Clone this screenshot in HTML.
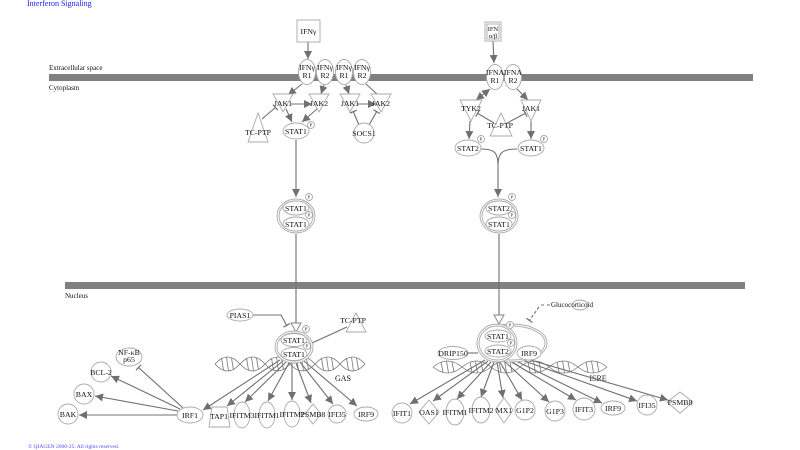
<!DOCTYPE html>
<html><head><meta charset="utf-8"><style>
html,body{margin:0;padding:0;background:#fff;}
svg{display:block;}
text{font-family:"Liberation Serif",serif;fill:#111;}
.n{fill:#fff;stroke:#aaa;stroke-width:0.9;}
.e{stroke:#707070;stroke-width:1.1;fill:none;}
.l{font-size:8px;text-anchor:middle;}
.s{font-size:7.8px;text-anchor:middle;}
.p{font-size:4.5px;text-anchor:middle;}
</style></head><body>
<svg width="800" height="450" viewBox="0 0 800 450">
<defs>
<marker id="a" viewBox="0 0 10 10" refX="10" refY="5" markerWidth="8" markerHeight="8" markerUnits="userSpaceOnUse" orient="auto"><path d="M0,0 L10,5 L0,10 z" fill="#707070"/></marker>
<marker id="as" viewBox="0 0 10 10" refX="0" refY="5" markerWidth="8" markerHeight="8" markerUnits="userSpaceOnUse" orient="auto"><path d="M10,0 L0,5 L10,10 z" fill="#707070"/></marker>
<marker id="b" viewBox="0 0 4 10" refX="3" refY="5" markerWidth="3" markerHeight="8" markerUnits="userSpaceOnUse" orient="auto"><path d="M2,0 L2,10" stroke="#707070" stroke-width="1.6"/></marker>
</defs>

<!-- title & footer -->
<text x="27" y="6" style="font-size:8px;fill:#1a1aff">Interferon Signaling</text>
<text x="28" y="448" style="font-size:5.5px;fill:#4a4aff">© QIAGEN 2000-25. All rights reserved.</text>

<!-- membranes -->
<text x="49" y="70" style="font-size:7px">Extracellular space</text>
<rect x="49" y="74" width="704" height="7" fill="#808080"/>
<text x="49" y="90" style="font-size:7px">Cytoplasm</text>
<rect x="65" y="282" width="680" height="7" fill="#808080"/>
<text x="65" y="298" style="font-size:7px">Nucleus</text>

<!-- helices -->
<g stroke="#777" stroke-width="0.8" fill="none">
<path d="M215,364 q12.5,-14 25,0 t25,0 t25,0 t25,0 t25,0 t25,0"/>
<path d="M215,364 q12.5,14 25,0 t25,0 t25,0 t25,0 t25,0 t25,0"/>
<path d="M221.5,358 l2,12 M226.5,357 l2,14 M231.5,358 l2,12 M246.5,358 l2,12 M251.5,357 l2,14 M256.5,358 l2,12 M271.5,358 l2,12 M276.5,357 l2,14 M281.5,358 l2,12 M296.5,358 l2,12 M301.5,357 l2,14 M306.5,358 l2,12 M321.5,358 l2,12 M326.5,357 l2,14 M331.5,358 l2,12 M346.5,358 l2,12 M351.5,357 l2,14 M356.5,358 l2,12"/>
<path d="M433,367 q14.5,-12 29,0 t29,0 t29,0 t29,0 t29,0 t29,0"/>
<path d="M433,367 q14.5,12 29,0 t29,0 t29,0 t29,0 t29,0 t29,0"/>
<path d="M441,362 l2,10 M446.5,361 l2,12 M452,362 l2,10 M470,362 l2,10 M475.5,361 l2,12 M481,362 l2,10 M499,362 l2,10 M504.5,361 l2,12 M510,362 l2,10 M528,362 l2,10 M533.5,361 l2,12 M539,362 l2,10 M557,362 l2,10 M562.5,361 l2,12 M568,362 l2,10 M586,362 l2,10 M591.5,361 l2,12 M597,362 l2,10"/>
</g>
<text x="343" y="381" class="l">GAS</text>
<text x="598" y="381" class="l">ISRE</text>

<!-- edges top left -->
<g class="e">
<line x1="308" y1="42" x2="308" y2="59" marker-end="url(#a)"/>
<line x1="302" y1="84" x2="288" y2="95" marker-end="url(#a)"/>
<line x1="324" y1="85" x2="321" y2="94" marker-end="url(#a)"/>
<line x1="346" y1="85" x2="349" y2="94" marker-end="url(#a)"/>
<line x1="366" y1="84" x2="378" y2="95"/>
<line x1="291" y1="104" x2="312" y2="104" marker-end="url(#a)"/>
<line x1="357" y1="104" x2="376" y2="104" marker-end="url(#a)"/>
<line x1="286" y1="109" x2="292" y2="122" marker-end="url(#a)"/>
<line x1="317" y1="109" x2="302" y2="122" marker-end="url(#a)"/>
<line x1="262" y1="119" x2="276" y2="107" marker-end="url(#b)"/>
<line x1="359" y1="125" x2="353" y2="111" marker-end="url(#b)"/>
<line x1="369" y1="125" x2="377" y2="111" marker-end="url(#b)"/>
<line x1="296" y1="140" x2="296" y2="197" marker-end="url(#a)"/>
<line x1="296" y1="234" x2="296" y2="323"/>
<!-- top right -->
<line x1="493" y1="41" x2="494" y2="63" marker-end="url(#a)"/>
<line x1="490" y1="89" x2="476" y2="100" marker-end="url(#a)" marker-start="url(#as)"/>
<line x1="517" y1="89" x2="528" y2="100" marker-end="url(#a)"/>
<line x1="494" y1="123" x2="477" y2="113" marker-end="url(#b)"/>
<line x1="507" y1="123" x2="526" y2="113" marker-end="url(#b)"/>
<line x1="470" y1="121" x2="469" y2="139" marker-end="url(#a)"/>
<line x1="531" y1="121" x2="531" y2="139" marker-end="url(#a)"/>
<path d="M481,149 C495,149 498,153 498,166 M517,149 C502,149 498,153 498,166"/>
<line x1="498" y1="166" x2="498" y2="197" marker-end="url(#a)"/>
<line x1="499" y1="234" x2="499" y2="315"/>
<!-- nucleus left -->
<path d="M253,315 L281,315 L287,326" marker-end="url(#b)"/>
<line x1="347" y1="327" x2="312" y2="343"/>
<line x1="280" y1="360" x2="203" y2="410" marker-end="url(#a)"/>
<line x1="283" y1="361" x2="227" y2="406" marker-end="url(#a)"/>
<line x1="286" y1="362" x2="245" y2="402" marker-end="url(#a)"/>
<line x1="289" y1="363" x2="268" y2="401" marker-end="url(#a)"/>
<line x1="292" y1="363" x2="292" y2="400" marker-end="url(#a)"/>
<line x1="296" y1="363" x2="311" y2="403" marker-end="url(#a)"/>
<line x1="300" y1="362" x2="333" y2="404" marker-end="url(#a)"/>
<line x1="304" y1="361" x2="357" y2="406" marker-end="url(#a)"/>
<line x1="177" y1="415" x2="79" y2="415" marker-end="url(#a)"/>
<line x1="178" y1="411" x2="95" y2="396" marker-end="url(#a)"/>
<line x1="180" y1="409" x2="111" y2="376" marker-end="url(#a)"/>
<line x1="183" y1="408" x2="138" y2="367" marker-end="url(#b)"/>
<!-- nucleus right -->
<line x1="468" y1="353" x2="478" y2="353"/>
<path d="M541,305 L544,305 M547,305 L550,305" stroke-width="0.9"/>
<line x1="539" y1="307" x2="529" y2="321" stroke-dasharray="3,2" marker-end="url(#b)"/>
<line x1="485" y1="360" x2="410" y2="404" marker-end="url(#a)"/>
<line x1="488" y1="361" x2="433" y2="401" marker-end="url(#a)"/>
<line x1="491" y1="362" x2="457" y2="399" marker-end="url(#a)"/>
<line x1="494" y1="362" x2="481" y2="397" marker-end="url(#a)"/>
<line x1="497" y1="362" x2="503" y2="398" marker-end="url(#a)"/>
<line x1="500" y1="362" x2="522" y2="400" marker-end="url(#a)"/>
<line x1="504" y1="361" x2="549" y2="402" marker-end="url(#a)"/>
<line x1="508" y1="360" x2="576" y2="400" marker-end="url(#a)"/>
<line x1="512" y1="359" x2="602" y2="403" marker-end="url(#a)"/>
<line x1="516" y1="358" x2="637" y2="401" marker-end="url(#a)"/>
<line x1="520" y1="357" x2="668" y2="400" marker-end="url(#a)"/>
</g>
<!-- hollow arrowheads -->
<polygon points="291,323 301,323 296,332" fill="#fff" stroke="#808080" stroke-width="0.9"/>
<polygon points="494,315 504,315 499,324" fill="#fff" stroke="#808080" stroke-width="0.9"/>

<!-- top-left nodes -->
<rect x="297" y="20" width="23" height="22" class="n"/>
<text x="308.5" y="34" class="s">IFNγ</text>
<ellipse cx="307" cy="72" rx="8.5" ry="12.5" class="n"/>
<ellipse cx="325" cy="72" rx="8.5" ry="12.5" class="n"/>
<ellipse cx="344" cy="72" rx="8.5" ry="12.5" class="n"/>
<ellipse cx="362" cy="72" rx="8.5" ry="12.5" class="n"/>
<text x="307" y="70" class="s">IFNγ</text><text x="307" y="78" class="s">R1</text>
<text x="325" y="70" class="s">IFNγ</text><text x="325" y="78" class="s">R2</text>
<text x="344" y="70" class="s">IFNγ</text><text x="344" y="78" class="s">R1</text>
<text x="362" y="70" class="s">IFNγ</text><text x="362" y="78" class="s">R2</text>
<polygon points="273,94 293,94 283,112" class="n"/><text x="283" y="106" class="s">JAK1</text>
<polygon points="309,94 329,94 319,112" class="n"/><text x="319" y="106" class="s">JAK2</text>
<polygon points="340,94 360,94 350,112" class="n"/><text x="350" y="106" class="s">JAK1</text>
<polygon points="371,94 391,94 381,112" class="n"/><text x="381" y="106" class="s">JAK2</text>
<polygon points="258,113 248,142 268,142" class="n"/><text x="258" y="135" class="s">TC-PTP</text>
<ellipse cx="296" cy="131" rx="13" ry="8" class="n"/><text x="296" y="134" class="s">STAT1</text>
<circle cx="311" cy="125" r="3.5" class="n"/><text x="311" y="126.6" class="p">P</text>
<circle cx="364" cy="133" r="10" class="n"/><text x="364" y="136" class="s">SOCS1</text>

<!-- top-right nodes -->
<rect x="485" y="22" width="16" height="19" class="n"/>
<rect x="487" y="24" width="12" height="15" class="n"/>
<text x="493" y="31" style="font-size:6.5px;text-anchor:middle">IFN</text>
<text x="493" y="38" style="font-size:6.5px;text-anchor:middle">α/β</text>
<ellipse cx="495" cy="77" rx="8.5" ry="12.5" class="n"/>
<ellipse cx="513" cy="77" rx="8.5" ry="12.5" class="n"/>
<text x="495" y="75" class="s">IFNA</text><text x="495" y="83" class="s">R1</text>
<text x="513" y="75" class="s">IFNA</text><text x="513" y="83" class="s">R2</text>
<polygon points="460,100 482,100 471,121" class="n"/><text x="471" y="111" class="s">TYK2</text>
<polygon points="521,100 541,100 531,121" class="n"/><text x="531" y="111" class="s">JAK1</text>
<polygon points="501,113 490,136 512,136" class="n"/><text x="500" y="128" class="s">TC-PTP</text>
<ellipse cx="468" cy="148" rx="13" ry="8" class="n"/><text x="468" y="151" class="s">STAT2</text>
<circle cx="481" cy="139" r="3.5" class="n"/><text x="481" y="140.6" class="p">P</text>
<ellipse cx="531" cy="148" rx="13" ry="8" class="n"/><text x="531" y="151" class="s">STAT1</text>
<circle cx="544" cy="139" r="3.5" class="n"/><text x="544" y="140.6" class="p">P</text>

<!-- cytoplasmic dimers -->
<ellipse cx="296" cy="216" rx="19" ry="17" class="n"/>
<ellipse cx="296" cy="216" rx="17" ry="15" class="n"/>
<ellipse cx="296" cy="208" rx="13" ry="7" class="n"/><text x="296" y="211" class="s">STAT1</text>
<ellipse cx="296" cy="224" rx="13" ry="7" class="n"/><text x="296" y="227" class="s">STAT1</text>
<circle cx="309" cy="197" r="3.5" class="n"/><text x="309" y="198.6" class="p">P</text>
<circle cx="309" cy="215" r="3.5" class="n"/><text x="309" y="216.6" class="p">P</text>
<ellipse cx="499" cy="216" rx="19" ry="17" class="n"/>
<ellipse cx="499" cy="216" rx="17" ry="15" class="n"/>
<ellipse cx="499" cy="208" rx="13" ry="7" class="n"/><text x="499" y="211" class="s">STAT2</text>
<ellipse cx="499" cy="224" rx="13" ry="7" class="n"/><text x="499" y="227" class="s">STAT1</text>
<circle cx="512" cy="197" r="3.5" class="n"/><text x="512" y="198.6" class="p">P</text>
<circle cx="512" cy="215" r="3.5" class="n"/><text x="512" y="216.6" class="p">P</text>

<!-- nucleus left nodes -->
<ellipse cx="240" cy="315" rx="13" ry="6" class="n"/><text x="240" y="318" class="s">PIAS1</text>
<polygon points="356,313 346,332 366,332" class="n"/><text x="353" y="323" class="s">TC-PTP</text>
<ellipse cx="294" cy="347" rx="19" ry="16" class="n"/>
<ellipse cx="294" cy="347" rx="17" ry="14" class="n"/>
<ellipse cx="294" cy="340" rx="13" ry="6.5" class="n"/><text x="294" y="343" class="s">STAT1</text>
<ellipse cx="294" cy="354" rx="13" ry="6.5" class="n"/><text x="294" y="357" class="s">STAT1</text>
<circle cx="306" cy="329" r="3.5" class="n"/><text x="306" y="330.6" class="p">P</text>
<circle cx="307" cy="346" r="3.5" class="n"/><text x="307" y="347.6" class="p">P</text>

<ellipse cx="190" cy="415" rx="13" ry="8" class="n"/><text x="190" y="418" class="s">IRF1</text>
<polygon points="212,407 227,407 230,427 209,427" class="n"/><text x="219" y="419" class="s">TAP1</text>
<ellipse cx="242" cy="415" rx="8" ry="13" class="n"/><text x="242" y="418" class="s">IFITM3</text>
<ellipse cx="267" cy="415" rx="8" ry="13" class="n"/><text x="267" y="418" class="s">IFITM1</text>
<ellipse cx="292" cy="414" rx="8" ry="13" class="n"/><text x="292" y="417" class="s">IFITM2</text>
<polygon points="313,404 321,414 313,424 305,414" class="n"/><text x="313" y="417" class="s">PSMB8</text>
<circle cx="337" cy="414" r="9" class="n"/><text x="337" y="417" class="s">IFI35</text>
<ellipse cx="366" cy="414" rx="12" ry="7" class="n"/><text x="366" y="417" class="s">IRF9</text>
<circle cx="101" cy="372" r="10" class="n"/><text x="101" y="375" class="s">BCL-2</text>
<circle cx="84" cy="394" r="10" class="n"/><text x="84" y="397" class="s">BAX</text>
<circle cx="68" cy="414" r="10" class="n"/><text x="68" y="417" class="s">BAK</text>
<ellipse cx="129" cy="357" rx="13" ry="9" class="n"/><text x="129" y="355" class="s">NF-κB</text><text x="129" y="362" class="s">p65</text>

<!-- nucleus right nodes -->
<ellipse cx="512" cy="343" rx="35" ry="19" class="n"/>
<ellipse cx="512" cy="343" rx="33" ry="17" class="n"/>
<ellipse cx="497" cy="343" rx="20" ry="19" class="n"/>
<ellipse cx="497" cy="343" rx="18" ry="17" class="n"/>
<ellipse cx="498" cy="336" rx="13" ry="6" class="n"/><text x="498" y="339" class="s">STAT1</text>
<ellipse cx="498" cy="351" rx="13" ry="6" class="n"/><text x="498" y="354" class="s">STAT2</text>
<ellipse cx="529" cy="353" rx="12" ry="7" class="n"/><text x="529" y="356" class="s">IRF9</text>
<circle cx="510" cy="325" r="3.5" class="n"/><text x="510" y="326.6" class="p">P</text>
<circle cx="511" cy="343" r="3.5" class="n"/><text x="511" y="344.6" class="p">P</text>
<ellipse cx="453" cy="353" rx="15" ry="6.5" class="n"/><text x="453" y="356" class="s">DRIP150</text>
<ellipse cx="580" cy="305" rx="8" ry="5" class="n"/>
<text x="551" y="307" style="font-size:7px">Glucocorticoid</text>

<circle cx="402" cy="413" r="10" class="n"/><text x="402" y="416" class="s">IFIT1</text>
<polygon points="429,400 439,412 429,424 419,412" class="n"/><text x="429" y="415" class="s">OAS1</text>
<ellipse cx="455" cy="412" rx="9" ry="13" class="n"/><text x="455" y="415" class="s">IFITM1</text>
<ellipse cx="481" cy="410" rx="9" ry="13" class="n"/><text x="481" y="413" class="s">IFITM2</text>
<polygon points="504,398 513,410 504,423 495,410" class="n"/><text x="504" y="413" class="s">MX1</text>
<circle cx="525" cy="410" r="10" class="n"/><text x="525" y="413" class="s">G1P2</text>
<circle cx="555" cy="411" r="10" class="n"/><text x="555" y="414" class="s">G1P3</text>
<circle cx="584" cy="409" r="11" class="n"/><text x="584" y="412" class="s">IFIT3</text>
<ellipse cx="613" cy="408" rx="12" ry="7" class="n"/><text x="613" y="411" class="s">IRF9</text>
<circle cx="647" cy="405" r="10" class="n"/><text x="647" y="408" class="s">IFI35</text>
<polygon points="680,392 693,402 680,413 667,402" class="n"/><text x="680" y="405" class="s">PSMB8</text>
</svg>
</body></html>
